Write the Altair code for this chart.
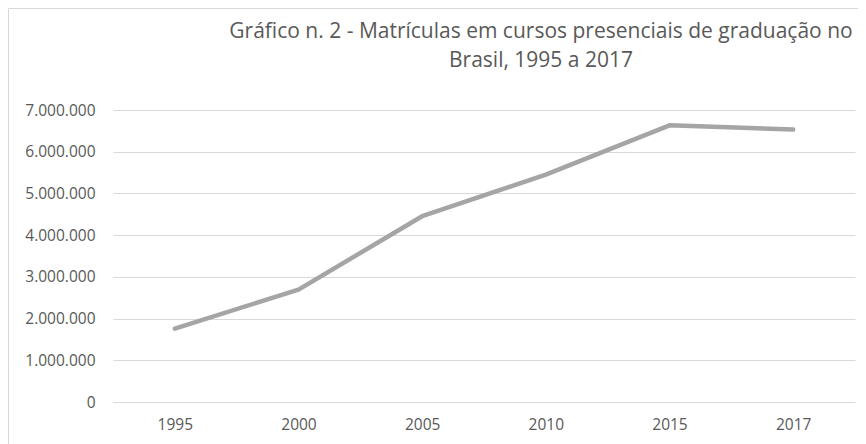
import altair as alt
import pandas as pd

years = ["1995", "2000", "2005", "2010", "2015", "2017"]
matriculas = [1759703, 2694245, 4453156, 5449120, 6633545, 6529681]
y_ticks = [0, 1000000, 2000000, 3000000, 4000000, 5000000, 6000000, 7000000]
title_lines = ["Gráfico n. 2 - Matrículas em cursos presenciais de graduação no",
               "Brasil, 1995 a 2017"]

df = pd.DataFrame({"ano": years, "matriculas": matriculas})

FONT = "Open Sans"
TXT = "#595959"

line = alt.Chart(df).mark_line(
    color="#a5a5a5", strokeWidth=4.5, strokeCap="round", strokeJoin="round"
).encode(
    x=alt.X("ano:O", sort=years, scale=alt.Scale(padding=0.5),
            axis=alt.Axis(title=None, labelAngle=0, domain=False, ticks=False,
                          grid=False, labelPadding=15, labelFontSize=15.5,
                          labelColor=TXT, labelFont=FONT)),
    y=alt.Y("matriculas:Q", scale=alt.Scale(domain=[0, 7000000], nice=False),
            axis=alt.Axis(title=None, values=y_ticks, format=",d", domain=False,
                          ticks=False, gridColor="#d9d9d9", gridWidth=1,
                          labelPadding=18, labelFontSize=15.5, labelColor=TXT,
                          labelFont=FONT)),
)

one = pd.DataFrame({"a": [0]})

frame = alt.Chart(one).mark_rect(
    fill=None, stroke="#d9d9d9", strokeWidth=1
).encode(
    x=alt.value(-104.5), x2=alt.value(800), y=alt.value(-101.5), y2=alt.value(400)
)

title1 = alt.Chart(one).mark_text(
    font=FONT, fontSize=21, color=TXT, align="center", baseline="alphabetic"
).encode(x=alt.value(428), y=alt.value(-72), text=alt.value(title_lines[0]))

title2 = alt.Chart(one).mark_text(
    font=FONT, fontSize=21, color=TXT, align="center", baseline="alphabetic"
).encode(x=alt.value(428), y=alt.value(-43), text=alt.value(title_lines[1]))

chart = alt.layer(frame, line, title1, title2).properties(
    width=742, height=292,
    autosize=alt.AutoSizeParams(type="none"),
    padding={"left": 105, "top": 102, "right": 3, "bottom": 42},
).configure(
    view={"stroke": None},
    locale={"number": {"decimal": ",", "thousands": ".", "grouping": [3],
                       "currency": ["R$", ""]}},
)

chart.save("out.html", embed_options={"renderer": "svg", "actions": False})
